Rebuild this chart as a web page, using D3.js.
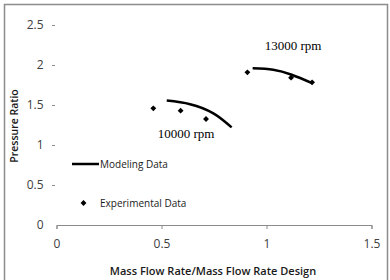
<!DOCTYPE html>
<html>
<head>
<meta charset="utf-8">
<script src="https://cdn.jsdelivr.net/npm/d3@7"></script>
<style>
  body { margin: 0; background: #fff; }
  svg { display: block; }
</style>
</head>
<body>
<svg id="chart"></svg>
<script>
// data
const xTicks = [0, 0.5, 1, 1.5];
const yTicks = [0, 0.5, 1, 1.5, 2, 2.5];

const model10000 = [[0.525, 1.555], [0.636, 1.51], [0.747, 1.396], [0.834, 1.22]];
const model13000 = [[0.934, 1.958], [1.032, 1.94], [1.12, 1.878], [1.22, 1.77]];

const expX = [0.461, 0.591, 0.712, 0.909, 1.117, 1.217];
const expY = [1.458, 1.429, 1.325, 1.908, 1.842, 1.783];

const W = 390, H = 280;
const svg = d3.select("#chart").attr("width", W).attr("height", H);

// outer frame
svg.append("rect")
  .attr("x", 4.5).attr("y", 4.5)
  .attr("width", 383).attr("height", 290)
  .attr("fill", "none").attr("stroke", "#8c8c8c").attr("stroke-width", 1.5);

const x = d3.scaleLinear().domain([0, 1.5]).range([56.5, 371.5]);
const y = d3.scaleLinear().domain([0, 2.5]).range([225, 25]);

const labelFont = "'Open Sans', sans-serif";

// x axis
const xAxis = svg.append("g")
  .attr("transform", "translate(0,225)")
  .call(d3.axisBottom(x).tickValues(xTicks).tickFormat(d3.format("")).tickSize(4).tickPadding(10));
xAxis.select(".domain").attr("stroke", "#8c8c8c");
xAxis.selectAll(".tick line").attr("stroke", "#8c8c8c");
xAxis.selectAll(".tick text")
  .attr("fill", "#404040").style("font-family", labelFont).style("font-size", "12px");

// y axis (no line, only small ticks)
const yAxis = svg.append("g")
  .attr("transform", "translate(56.5,0)")
  .call(d3.axisLeft(y).tickValues(yTicks).tickFormat(d3.format("")).tickSize(0).tickPadding(13));
yAxis.select(".domain").remove();
yAxis.selectAll(".tick").filter(d => d > 0).append("line")
  .attr("x1", -4.5).attr("x2", -1.5).attr("stroke", "#8c8c8c");
yAxis.selectAll(".tick text")
  .attr("fill", "#404040").style("font-family", labelFont).style("font-size", "12px");

// axis titles
svg.append("text")
  .attr("x", 213).attr("y", 275)
  .attr("text-anchor", "middle")
  .style("font-family", labelFont).style("font-size", "11px").style("font-weight", "600")
  .attr("fill", "#1a1a1a")
  .text("Mass Flow Rate/Mass Flow Rate Design");

svg.append("text")
  .attr("transform", "translate(18,126) rotate(-90)")
  .attr("text-anchor", "middle")
  .style("font-family", labelFont).style("font-size", "10.5px").style("font-weight", "600")
  .attr("fill", "#1a1a1a")
  .text("Pressure Ratio");

// modeling curves
const line = d3.line().x(d => x(d[0])).y(d => y(d[1])).curve(d3.curveNatural);
[model10000, model13000].forEach(m => {
  svg.append("path")
    .attr("d", line(m))
    .attr("fill", "none").attr("stroke", "#000").attr("stroke-width", 2.5);
});

// experimental points
const diamond = d3.symbol().type(d3.symbolDiamond2).size(22);
svg.selectAll(".pt")
  .data(expX.map((v, i) => [v, expY[i]]))
  .enter()
  .append("path")
  .attr("class", "pt")
  .attr("d", diamond)
  .attr("transform", d => `translate(${x(d[0])},${y(d[1])})`)
  .attr("fill", "#000");

// speed labels
svg.append("text")
  .attr("x", 293).attr("y", 50).attr("text-anchor", "middle")
  .style("font-family", "'Liberation Serif', serif").style("font-size", "13px")
  .text("13000 rpm");
svg.append("text")
  .attr("x", 186).attr("y", 138).attr("text-anchor", "middle")
  .style("font-family", "'Liberation Serif', serif").style("font-size", "13px")
  .text("10000 rpm");

// legend
svg.append("line")
  .attr("x1", 72).attr("x2", 99).attr("y1", 164).attr("y2", 164)
  .attr("stroke", "#000").attr("stroke-width", 2.5);
svg.append("text")
  .attr("x", 100).attr("y", 168)
  .style("font-family", labelFont).style("font-size", "10px").attr("fill", "#1a1a1a")
  .text("Modeling Data");
svg.append("path")
  .attr("d", diamond)
  .attr("transform", "translate(83.5,203)")
  .attr("fill", "#000");
svg.append("text")
  .attr("x", 100).attr("y", 207)
  .style("font-family", labelFont).style("font-size", "10px").attr("fill", "#1a1a1a")
  .text("Experimental Data");
</script>
</body>
</html>
